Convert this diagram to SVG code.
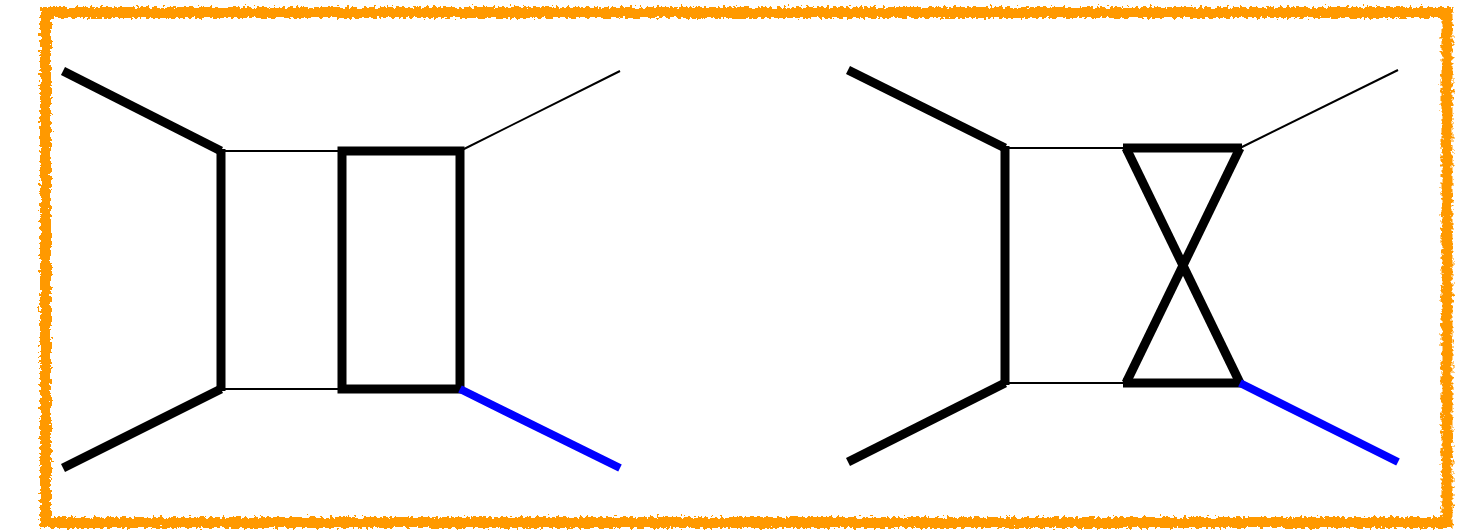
<svg xmlns="http://www.w3.org/2000/svg" width="1465" height="530" viewBox="0 0 1465 530">
<defs>
<filter id="rough" x="-5%" y="-5%" width="110%" height="110%">
<feTurbulence type="fractalNoise" baseFrequency="0.3" numOctaves="2" seed="3" result="n"/>
<feDisplacementMap in="SourceGraphic" in2="n" scale="8" xChannelSelector="R" yChannelSelector="G"/>
</filter>
</defs>
<style>
.thick{stroke:#000;stroke-width:9;fill:none;stroke-linecap:butt}
.thin{stroke:#000;stroke-width:2;fill:none}
.blue{stroke:#0000ff;stroke-width:8;fill:none}
.frame{stroke:#ff9900;stroke-width:11;fill:none}
</style>
<rect width="1465" height="530" fill="#fff"/>
<g id="frame" filter="url(#rough)">
<rect class="frame" x="45.5" y="12.5" width="1401.5" height="510"/>
</g>
<g id="diagram-left">
<line class="thick" x1="63" y1="71" x2="221" y2="151"/>
<line class="thick" x1="63" y1="468" x2="221" y2="389"/>
<line class="thick" x1="221" y1="149" x2="221" y2="391"/>
<line class="thin" x1="221" y1="151" x2="342" y2="151"/>
<line class="thin" x1="221" y1="389" x2="342" y2="389"/>
<rect class="thick" x="342" y="151" width="118" height="238"/>
<line class="thin" x1="460" y1="151" x2="620" y2="71"/>
<line class="blue" x1="460" y1="389" x2="620" y2="468"/>
</g>
<g id="diagram-right">
<line class="thick" x1="848" y1="70" x2="1005" y2="148"/>
<line class="thick" x1="848" y1="462" x2="1005" y2="383"/>
<line class="thick" x1="1005" y1="146" x2="1005" y2="385"/>
<line class="thin" x1="1005" y1="148" x2="1125" y2="148"/>
<line class="thin" x1="1005" y1="383" x2="1125" y2="383"/>
<line class="thick" x1="1123" y1="148" x2="1242" y2="148"/>
<line class="thick" x1="1123" y1="383" x2="1242" y2="383"/>
<line class="thick" x1="1126" y1="148" x2="1240" y2="383"/>
<line class="thick" x1="1240" y1="148" x2="1126" y2="383"/>
<line class="thin" x1="1240" y1="148" x2="1398" y2="70"/>
<line class="blue" x1="1240" y1="383" x2="1398" y2="462"/>
</g>
</svg>
